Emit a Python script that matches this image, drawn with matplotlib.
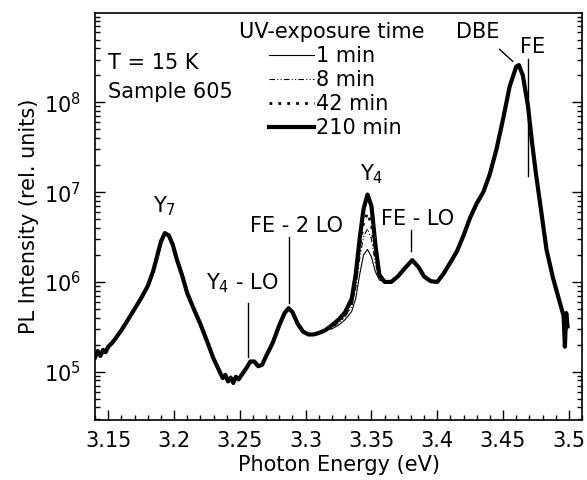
import matplotlib.pyplot as plt
import numpy as np
from matplotlib.ticker import MultipleLocator, LogLocator, NullFormatter, FuncFormatter

plt.rcParams['font.family'] = ['DejaVu Sans']
plt.rcParams['mathtext.default'] = 'regular'
FS = 15

# PL spectrum below the Y4 line (same for every exposure time)
eLow = [3.140, 3.142, 3.144, 3.146, 3.148, 3.150, 3.153, 3.156, 3.160, 3.165,
        3.170, 3.175, 3.180, 3.184, 3.187, 3.190, 3.193, 3.196, 3.199, 3.202,
        3.206, 3.210, 3.215, 3.220, 3.225, 3.230, 3.234, 3.237, 3.239, 3.241,
        3.243, 3.245, 3.247, 3.249, 3.252, 3.255, 3.258, 3.261, 3.264, 3.267,
        3.270, 3.275, 3.280, 3.284, 3.287, 3.290, 3.294, 3.298, 3.302, 3.306,
        3.310, 3.315]
iLow = [1.45e5, 1.7e5, 1.5e5, 1.75e5, 1.65e5, 1.9e5, 2.1e5, 2.4e5, 2.9e5, 3.8e5,
        5.0e5, 6.6e5, 9.0e5, 1.3e6, 1.9e6, 2.8e6, 3.5e6, 3.3e6, 2.6e6, 1.8e6,
        1.2e6, 7.5e5, 5.0e5, 3.4e5, 2.2e5, 1.4e5, 1.05e5, 8.5e4, 9.2e4, 7.8e4,
        8.6e4, 7.5e4, 8.8e4, 8.2e4, 9.5e4, 1.1e5, 1.3e5, 1.3e5, 1.15e5, 1.2e5,
        1.5e5, 2.1e5, 3.3e5, 4.5e5, 5.1e5, 4.6e5, 3.4e5, 2.8e5, 2.6e5, 2.6e5,
        2.7e5, 2.9e5]

# Y4 region, grows with UV exposure
eY4 = [3.320, 3.325, 3.330, 3.335, 3.338, 3.341, 3.344, 3.347, 3.350, 3.353, 3.356]
iY4_1min = [3.0e5, 3.3e5, 3.8e5, 4.7e5, 6.5e5, 1.2e6, 2.0e6, 2.3e6, 1.9e6, 1.3e6, 1.05e6]
iY4_8min = [3.1e5, 3.5e5, 4.1e5, 5.3e5, 8.5e5, 1.8e6, 3.2e6, 3.9e6, 3.0e6, 1.6e6, 1.1e6]
iY4_42min = [3.2e5, 3.6e5, 4.3e5, 5.8e5, 1.0e6, 2.4e6, 4.6e6, 5.8e6, 4.4e6, 2.0e6, 1.15e6]
iY4_210min = [3.3e5, 3.8e5, 4.6e5, 6.5e5, 1.2e6, 3.0e6, 6.5e6, 9.4e6, 7.0e6, 2.6e6, 1.2e6]

# FE-LO, DBE and FE region
eHigh = [3.360, 3.365, 3.370, 3.375, 3.381, 3.386, 3.390, 3.395, 3.400, 3.405,
         3.410, 3.415, 3.420, 3.425, 3.430, 3.435, 3.440, 3.445, 3.450, 3.455,
         3.460, 3.462, 3.465, 3.469, 3.472, 3.475, 3.478, 3.483, 3.488, 3.493,
         3.496, 3.497, 3.498, 3.499]
iHigh = [1.0e6, 1.0e6, 1.15e6, 1.4e6, 1.75e6, 1.45e6, 1.15e6, 1.02e6, 1.0e6, 1.25e6,
         1.65e6, 2.2e6, 3.3e6, 5.2e6, 7.5e6, 1.0e7, 1.6e7, 3.0e7, 6.5e7, 1.5e8,
         2.5e8, 2.6e8, 2.0e8, 9.0e7, 3.6e7, 1.6e7, 7.8e6, 2.3e6, 1.1e6, 6.0e5,
         4.2e5, 1.9e5, 4.5e5, 3.2e5]

labels = ['1 min', '8 min', '42 min', '210 min']
y4Data = [iY4_1min, iY4_8min, iY4_42min, iY4_210min]
styles = [dict(lw=0.8, ls='-'),
          dict(lw=0.8, ls=(0, (5, 2, 1, 2, 1, 2))),
          dict(lw=2.0, ls=(0, (1, 2.2))),
          dict(lw=3.0, ls='-')]

# peak labels: text, x, log10(y)
peakText = ['Y$_{7}$', 'Y$_{4}$', 'Y$_{4}$ - LO', 'FE - 2 LO', 'FE - LO', 'DBE', 'FE']
peakX = [3.1930, 3.3500, 3.2520, 3.2930, 3.3850, 3.4310, 3.4725]
peakLogY = [6.84, 7.20, 5.99, 6.62, 6.70, 8.78, 8.62]

# marker lines: x, log10(y) start, log10(y) end
markX = [3.2565, 3.2870, 3.3800, 3.4690]
markY0 = [5.16, 5.77, 6.34, 7.175]
markY1 = [5.77, 6.495, 6.58, 8.48]

fig = plt.figure(figsize=(5.87, 4.8), dpi=100)
ax = fig.add_axes([0.162, 0.125, 0.8295, 0.848])

energy = eLow + eY4 + eHigh
handles = []
for lab, iy4, st in zip(labels[::-1], y4Data[::-1], styles[::-1]):
    h, = ax.plot(energy, iLow + iy4 + iHigh, color='black', label=lab,
                 solid_joinstyle='round', **st)
    handles.append(h)
handles = handles[::-1]

for t, x, ly in zip(peakText, peakX, peakLogY):
    ax.text(x, 10 ** ly, t, ha='center', va='center', fontsize=FS)
for x, y0, y1 in zip(markX, markY0, markY1):
    ax.plot([x, x], [10 ** y0, 10 ** y1], color='black', lw=1.0)
# DBE pointer
ax.plot([3.4474, 3.4573], [10 ** 8.59, 10 ** 8.457], color='black', lw=1.0)

ax.text(0.027, 0.877, 'T = 15 K', transform=ax.transAxes, fontsize=FS, va='center')
ax.text(0.027, 0.806, 'Sample 605', transform=ax.transAxes, fontsize=FS, va='center')
ax.text(0.296, 0.953, 'UV-exposure time', transform=ax.transAxes, fontsize=FS, va='center')

ax.legend(handles, labels, loc='upper left', bbox_to_anchor=(0.357, 0.918),
          frameon=False, fontsize=FS, handlelength=2.15, handletextpad=0.12,
          labelspacing=0.19, borderpad=0, borderaxespad=0)

ax.set_yscale('log')
ax.set_xlim(3.14, 3.51)
ax.set_ylim(2.9e4, 9.9e8)
ax.xaxis.set_major_locator(MultipleLocator(0.05))
ax.xaxis.set_minor_locator(MultipleLocator(0.01))
ax.xaxis.set_major_formatter(FuncFormatter(lambda v, p: '%g' % round(v, 2)))
ax.yaxis.set_major_locator(LogLocator(base=10))
ax.yaxis.set_minor_locator(LogLocator(base=10, subs=np.arange(2, 10)))
ax.yaxis.set_minor_formatter(NullFormatter())
ax.yaxis.set_major_formatter(FuncFormatter(lambda v, p: '$10^{%d}$' % round(np.log10(v))))
ax.tick_params(which='both', direction='in', top=False, right=True, labelsize=FS,
               width=1.0)
ax.tick_params(which='major', length=7)
ax.tick_params(axis='x', which='major', pad=8)
ax.tick_params(axis='y', which='major', pad=10)
ax.tick_params(which='minor', length=3.5)
for s in ax.spines.values():
    s.set_linewidth(1.2)

ax.set_xlabel('Photon Energy (eV)', fontsize=FS, labelpad=3)
ax.set_ylabel('PL Intensity (rel. units)', fontsize=FS, labelpad=4)

fig.savefig('out.png', dpi=100)
